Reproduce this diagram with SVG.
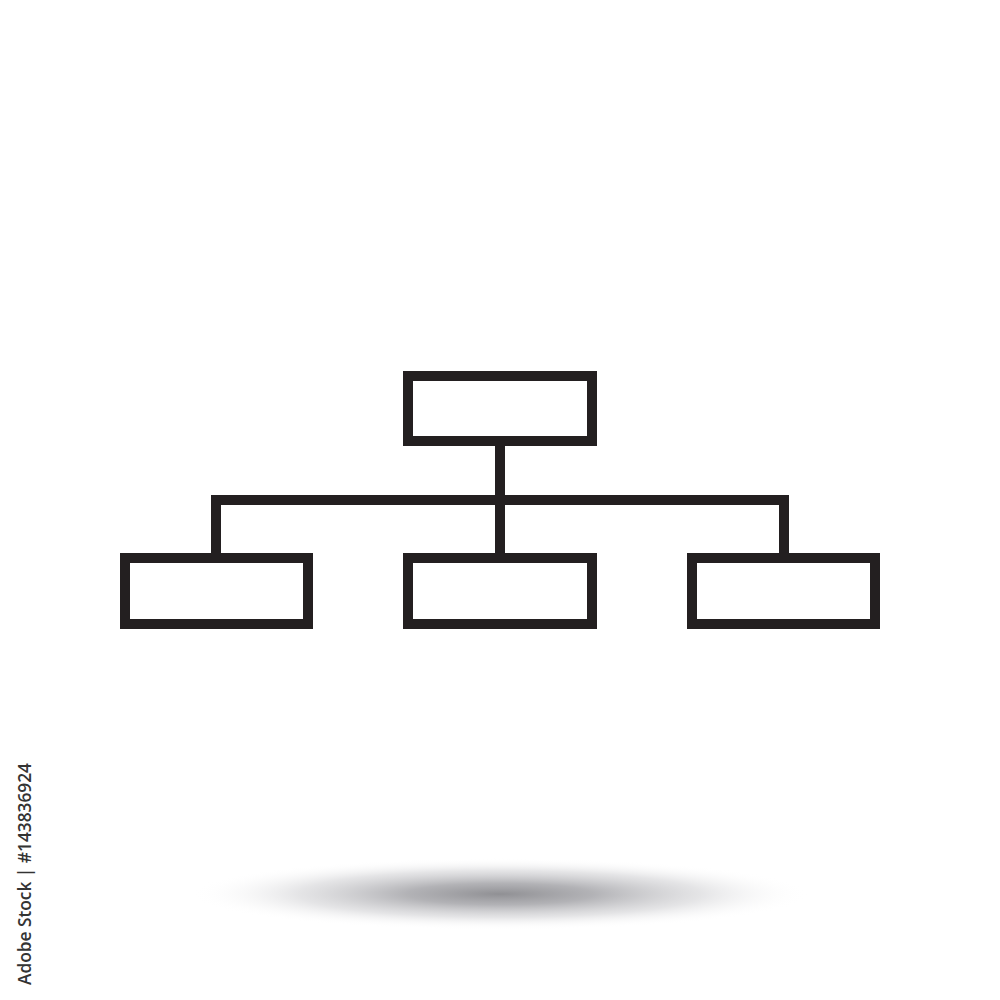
<svg xmlns="http://www.w3.org/2000/svg" width="1000" height="1000" viewBox="0 0 1000 1000">
  <defs>
    <radialGradient id="shadow" cx="0.5" cy="0.5" r="0.5">
      <stop offset="0" stop-color="#909094" stop-opacity="1"/>
      <stop offset="0.3" stop-color="#aaaaae" stop-opacity="0.9"/>
      <stop offset="0.65" stop-color="#cfcfd2" stop-opacity="0.55"/>
      <stop offset="1" stop-color="#ffffff" stop-opacity="0"/>
    </radialGradient>
    <style>
      .box { fill: none; stroke: #231f20; stroke-width: 10; }
      .link { fill: none; stroke: #231f20; stroke-width: 10; stroke-linecap: butt; stroke-linejoin: miter; }
      .credit { font-family: "Open Sans", "Liberation Sans", sans-serif; font-weight: 600; font-size: 18px; fill: #333333; }
    </style>
  </defs>
  <rect x="0" y="0" width="1000" height="1000" fill="#ffffff"/>
  <ellipse cx="500" cy="894" rx="310" ry="36" fill="url(#shadow)"/>
  <g id="connectors">
    <path class="link" d="M500 441 V558"/>
    <path class="link" d="M216 558 V500 H784 V558"/>
  </g>
  <g id="node-top">
    <rect class="box" x="408" y="376" width="184" height="65"/>
  </g>
  <g id="node-left">
    <rect class="box" x="125" y="558" width="183" height="66"/>
  </g>
  <g id="node-middle">
    <rect class="box" x="408" y="558" width="184" height="66"/>
  </g>
  <g id="node-right">
    <rect class="box" x="692" y="558" width="183" height="66"/>
  </g>
  <text class="credit" transform="translate(31 985) rotate(-90)" textLength="222" lengthAdjust="spacingAndGlyphs">Adobe Stock | #143836924</text>
</svg>
